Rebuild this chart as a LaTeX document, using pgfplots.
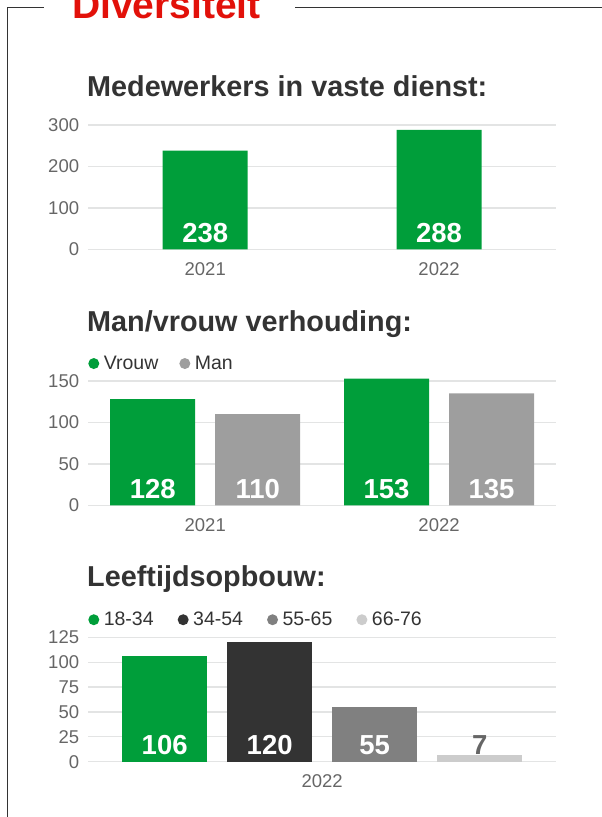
\documentclass[border=0pt]{standalone}
\usepackage{pgfplots}
\pgfplotsset{compat=1.18}
\usepackage{fontspec}
\setmainfont{Liberation Sans}
\definecolor{brgreen}{HTML}{009E3A}
\definecolor{mangray}{HTML}{9E9E9E}
\definecolor{dk}{HTML}{333333}
\definecolor{midg}{HTML}{808080}
\definecolor{ltg}{HTML}{CCCCCC}
\definecolor{gridc}{HTML}{E3E4E4}
\definecolor{tickc}{HTML}{666666}
\definecolor{redt}{HTML}{E2110A}
\definecolor{framec}{HTML}{333333}
\newcommand\ticksize{\fontsize{18.5}{22}\selectfont}
\newcommand\legsize{\fontsize{19.5}{23}\selectfont}
\newcommand\valsize{\fontsize{27.5}{32}\selectfont\bfseries}
\newcommand\titlesize{\fontsize{28.8}{34}\selectfont\bfseries}
\pgfplotsset{
  mybase/.style={
    scale only axis, width=467.7pt,
    axis line style={draw=none}, major tick length=0pt,
    ymajorgrids, grid style={gridc, line width=1.3pt},
    tick label style={font=\ticksize, text=tickc},
    yticklabel style={anchor=east, inner sep=0pt, xshift=-9pt},
    xticklabel style={anchor=north, inner sep=0pt, yshift=-13pt},
    ymin=0, clip=false,
    /pgf/number format/assume math mode=true,
    legend style={draw=none, fill=none, at={(0,1)}, anchor=south west, yshift=10pt,
      inner sep=0pt, outer sep=0pt, font=\legsize, text=dk,
      /tikz/every odd column/.append style={column sep=4.5pt},
      /tikz/every even column/.append style={column sep=21pt},
      nodes={inner sep=0pt}},
    legend columns=-1, legend cell align=left,
  },
  mybar/.style={ybar, bar width=0.3635, bar shift=0pt, draw=none, fill=#1,
    legend image code/.code={\fill[#1] (5.5pt,0pt) circle (5.5pt);}},
  mylab/.style={forget plot, draw=none, nodes near coords, point meta=explicit symbolic,
    every node near coord/.append style={font=\valsize, text=#1, inner sep=0pt, anchor=base, yshift=7pt}},
}
\begin{document}
\begin{tikzpicture}[x=1pt,y=1pt]
\useasboundingbox (0,0) rectangle (602,817);
\clip (0,0) rectangle (602,817);
% frame
\draw[framec, line width=1.4pt] (7.5,0) -- (7.5,809.3) -- (44,809.3);
\draw[framec, line width=1.4pt] (295,809.3) -- (602,809.3);
\node[anchor=base west, inner sep=0pt, text=redt, font=\fontsize{39}{44}\selectfont\bfseries] at (72,798.7) {Diversiteit};
% titles
\node[anchor=base west, inner sep=0pt, text=dk, font=\titlesize] at (87,720) {Medewerkers in vaste dienst:};
\node[anchor=base west, inner sep=0pt, text=dk, font=\titlesize] at (87,485.5) {Man/vrouw verhouding:};
\node[anchor=base west, inner sep=0pt, text=dk, font=\titlesize] at (87,230.5) {Leeftijdsopbouw:};

% chart 1
\begin{axis}[mybase, at={(88.3pt,567.7pt)}, anchor=south west, height=124.3pt,
  xmin=-0.5, xmax=1.5, ymax=300, ytick={0,100,200,300},
  xtick={0,1}, xticklabels={2021,2022}]
\addplot[mybar=brgreen] coordinates {(0,238) (1,288)};
\addplot[mylab=white] coordinates {(0,0) [238] (1,0) [288]};
\end{axis}

% chart 2
\begin{axis}[mybase, at={(88.3pt,311.7pt)}, anchor=south west, height=124.3pt,
  xmin=-0.5, xmax=1.5, ymax=150, ytick={0,50,100,150},
  xtick={0,1}, xticklabels={2021,2022}]
\addplot[mybar=brgreen] coordinates {(-0.2245,128) (0.7755,153)};
\addlegendentry{Vrouw}
\addplot[mybar=mangray] coordinates {(0.2245,110) (1.2245,135)};
\addlegendentry{Man}
\addplot[mylab=white] coordinates {(-0.2245,0) [128] (0.7755,0) [153] (0.2245,0) [110] (1.2245,0) [135]};
\end{axis}

% chart 3
\begin{axis}[mybase, at={(88.3pt,55.3pt)}, anchor=south west, height=124.4pt,
  xmin=-1, xmax=1, ymax=125, ytick={0,25,50,75,100,125},
  xtick={0}, xticklabels={2022},
  legend style={/tikz/every even column/.append style={column sep=24pt}}]
\addplot[mybar=brgreen] coordinates {(-0.6735,106)};
\addlegendentry{18-34}
\addplot[mybar=dk] coordinates {(-0.2245,120)};
\addlegendentry{34-54}
\addplot[mybar=midg] coordinates {(0.2245,55)};
\addlegendentry{55-65}
\addplot[mybar=ltg] coordinates {(0.6735,7)};
\addlegendentry{66-76}
\addplot[mylab=white] coordinates {(-0.6735,0) [106] (-0.2245,0) [120] (0.2245,0) [55]};
\addplot[mylab=tickc] coordinates {(0.6735,0) [7]};
\end{axis}
\end{tikzpicture}
\end{document}
